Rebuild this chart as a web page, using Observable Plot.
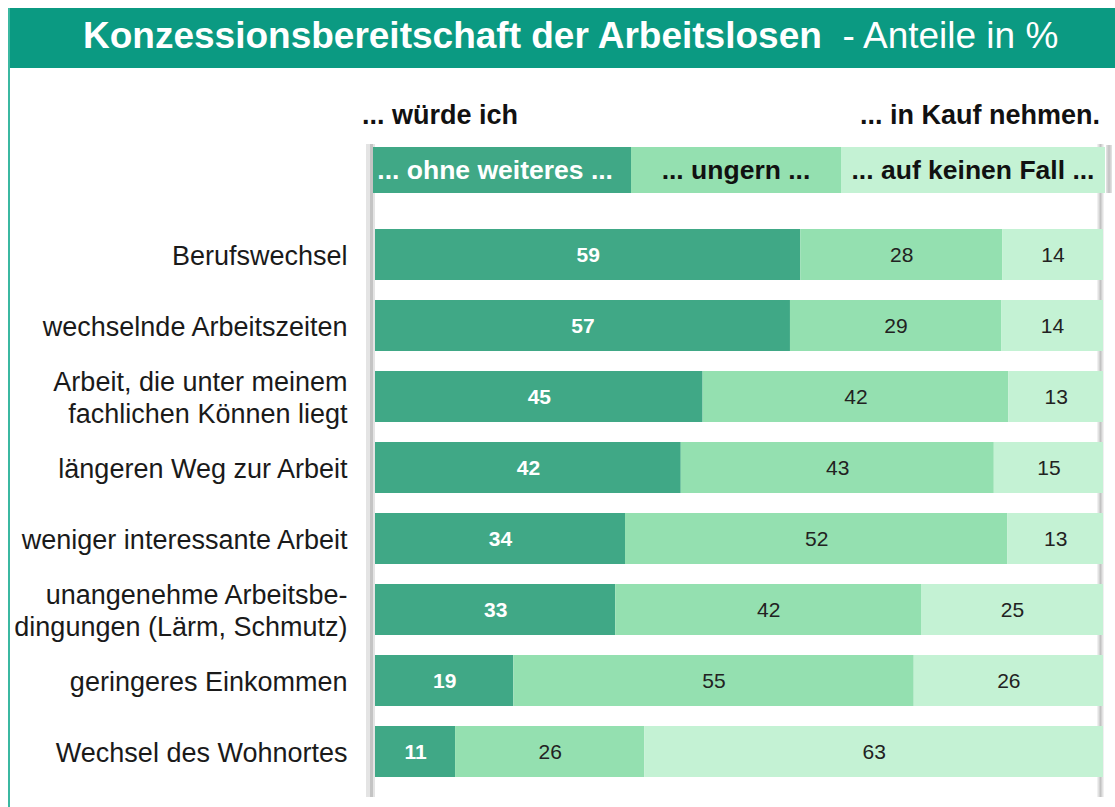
<!DOCTYPE html>
<html>
<head>
<meta charset="utf-8">
<script src="https://cdn.jsdelivr.net/npm/d3@7"></script>
<script src="https://cdn.jsdelivr.net/npm/@observablehq/plot@0.6"></script>
<style>
  html, body { margin: 0; padding: 0; background: #fff; }
  #wrap { position: relative; width: 1115px; height: 807px; overflow: hidden; font-family: "Liberation Sans", Arial, sans-serif; }
  #chart { position: absolute; left: 0; top: 0; z-index: 1; }
  .abs { position: absolute; z-index: 2; white-space: pre; }
  #header { left: 8px; top: 8px; width: 1107px; height: 60px; background: #0b9a82; }
  #leftline { left: 8px; top: 8px; width: 2px; height: 799px; background: #3bb8a1; }
  #title { left: 83px; top: 17px; font-size: 37px; line-height: 37px; color: #fff; }
  #title b { font-weight: bold; }
  .head { top: 102px; font-size: 27px; line-height: 26px; font-weight: bold; color: #111; }
  #legend { left: 373px; top: 147px; height: 46px; display: flex; }
  #legend div { box-sizing: border-box; height: 46px; line-height: 46px; font-size: 26.5px; font-weight: bold; text-align: center; overflow: hidden; white-space: nowrap; }
  #legend div.first { text-align: right; padding-right: 18px; direction: rtl; }
  #rightcap { left: 1106px; top: 145px; width: 6px; height: 48px; background: linear-gradient(to right, #e6e6e6, #c2c2c2, #e6e6e6); }
</style>
</head>
<body>
<div id="wrap">
  <div id="chart"></div>
  <div id="header" class="abs"></div>
  <div id="leftline" class="abs"></div>
  <div id="title" class="abs"></div>
  <div id="headLeft" class="abs head" style="left:362px"></div>
  <div id="headRight" class="abs head" style="right:15px"></div>
  <div id="legend" class="abs"></div>
  <div id="rightcap" class="abs"></div>
</div>
<script>
const titleMain = "Konzessionsbereitschaft der Arbeitslosen";
const titleSub = "  - Anteile in %";
const headLeft = "... würde ich";
const headRight = "... in Kauf nehmen.";

const categories = [
  "Berufswechsel",
  "wechselnde Arbeitszeiten",
  "Arbeit, die unter meinem\nfachlichen Können liegt",
  "längeren Weg zur Arbeit",
  "weniger interessante Arbeit",
  "unangenehme Arbeitsbe-\ndingungen (Lärm, Schmutz)",
  "geringeres Einkommen",
  "Wechsel des Wohnortes"
];
const seriesNames = ["... ohne weiteres ...", "... ungern ...", "... auf keinen Fall ..."];
const ohneWeiteres = [59, 57, 45, 42, 34, 33, 19, 11];
const ungern = [28, 29, 42, 43, 52, 42, 55, 26];
const aufKeinenFall = [14, 14, 13, 15, 13, 25, 26, 63];
const seriesColors = ["#40a886", "#94e0b0", "#c4f2d4"];
const legendWidths = [258, 210, 264];

const seriesValues = [ohneWeiteres, ungern, aufKeinenFall];
const rows = categories.flatMap((c, i) =>
  seriesNames.map((s, j) => ({item: c, type: s, idx: j, value: seriesValues[j][i]}))
);

document.getElementById("title").innerHTML = "<b></b><span></span>";
document.querySelector("#title b").textContent = titleMain;
document.querySelector("#title span").textContent = titleSub;
document.getElementById("headLeft").textContent = headLeft;
document.getElementById("headRight").textContent = headRight;

const legend = document.getElementById("legend");
seriesNames.forEach((s, j) => {
  const d = document.createElement("div");
  if (j === 0) d.className = "first";
  d.style.width = legendWidths[j] + "px";
  d.style.background = seriesColors[j];
  d.style.color = j === 0 ? "#fff" : "#111";
  const span = document.createElement("span");
  span.style.direction = "ltr";
  span.style.unicodeBidi = "embed";
  span.textContent = s;
  d.appendChild(span);
  legend.appendChild(d);
});

const stack = (extra) => Plot.stackX({x: "value", y: "item", z: "type", offset: "normalize", ...extra});

const plot = Plot.plot({
  width: 1115,
  height: 807,
  marginLeft: 375,
  marginRight: 12,
  marginTop: 207,
  marginBottom: 8,
  style: {fontFamily: "'Liberation Sans', Arial, sans-serif", background: "transparent"},
  x: {domain: [0, 1], axis: null},
  y: {domain: categories, padding: 0.287, axis: null},
  color: {type: "identity"},
  marks: [
    Plot.ruleX([0], {dx: -5, stroke: "#e4e4e4", strokeWidth: 9, insetTop: -63, insetBottom: 2}),
    Plot.ruleX([0], {dx: -4, stroke: "#c4c4c4", strokeWidth: 3, insetTop: -63, insetBottom: 2}),
    Plot.ruleX([1], {dx: -3, stroke: "#e2e2e2", strokeWidth: 6, insetTop: -63, insetBottom: 2}),
    Plot.ruleX([1], {dx: -3, stroke: "#c2c2c2", strokeWidth: 2, insetTop: -63, insetBottom: 2}),
    Plot.barX(rows, stack({fill: d => seriesColors[d.idx]})),
    Plot.text(rows, stack({
      text: d => d.idx === 0 ? String(d.value) : "",
      fill: "#fff", fontWeight: "bold", fontSize: 21
    })),
    Plot.text(rows, stack({
      text: d => d.idx === 0 ? "" : String(d.value),
      fill: "#222", fontSize: 21
    })),
    Plot.text(categories, {
      y: d => d, text: d => d, frameAnchor: "left", textAnchor: "end",
      dx: -28, fontSize: 27, lineHeight: 1.17, fill: "#1a1a1a"
    })
  ]
});
document.getElementById("chart").appendChild(plot);
</script>
</body>
</html>
